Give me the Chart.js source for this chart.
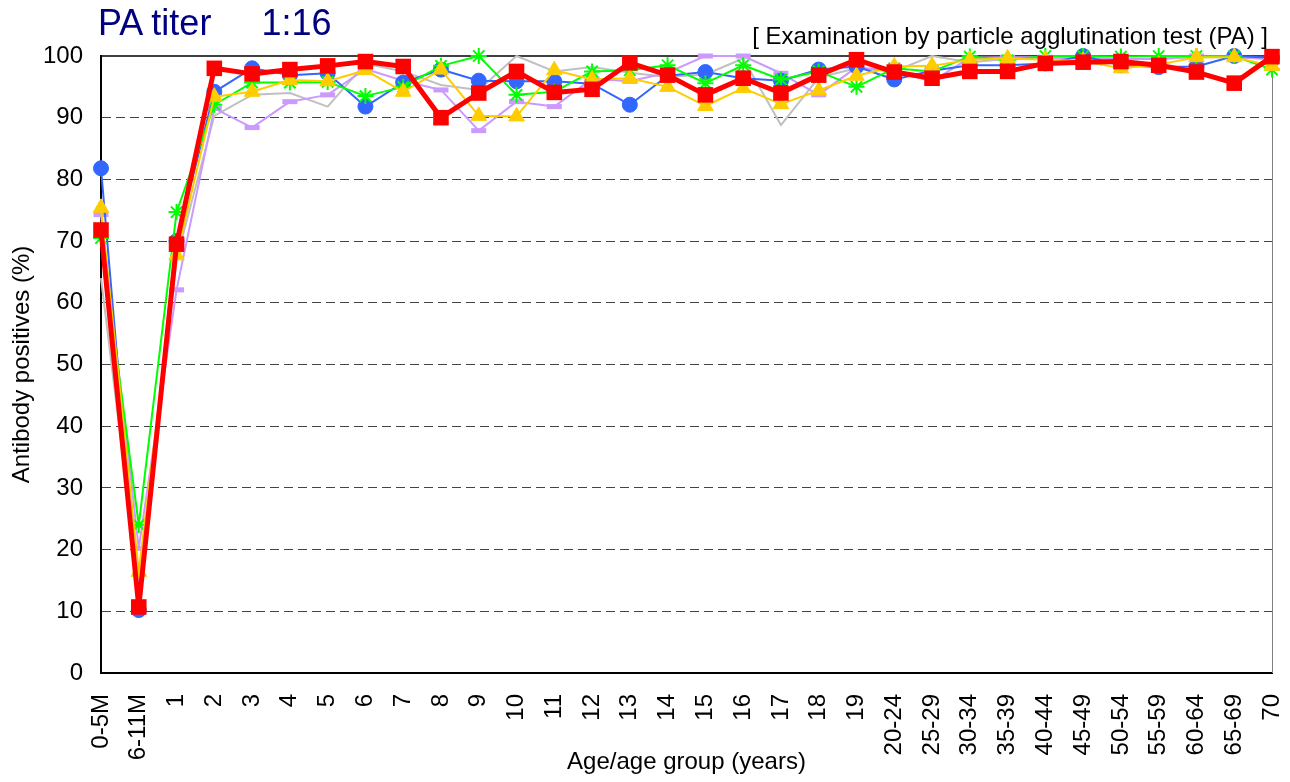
<!DOCTYPE html>
<html>
<head>
<meta charset="utf-8">
<title>PA titer 1:16</title>
<script src="https://cdn.jsdelivr.net/npm/chart.js@4.4.1/dist/chart.umd.min.js"></script>
<style>
    body { margin: 0; background: #fff; }
    #wrap { position: relative; width: 1290px; height: 782px; }
    #title {
        position: absolute; left: 98px; top: 5px;
        font: 36px/36px "Liberation Sans", Arial, sans-serif;
        color: #000080; white-space: pre;
    }
    #subtitle {
        position: absolute; right: 22px; top: 24px;
        font: 24px/24px "Liberation Sans", Arial, sans-serif;
        color: #000; white-space: pre;
    }
</style>
</head>
<body>
<div id="wrap">
    <canvas id="chart" width="1290" height="782"></canvas>
    <div id="title">PA titer<span style="margin-left:50px">1:16</span></div>
    <div id="subtitle">[ Examination by particle agglutination test (PA) ]</div>
</div>

<script>
// -----------------------------
// DATA
// -----------------------------
const ageGroups = [
    "0-5M", "6-11M", "1", "2", "3", "4", "5", "6", "7", "8", "9", "10",
    "11", "12", "13", "14", "15", "16", "17", "18", "19",
    "20-24", "25-29", "30-34", "35-39", "40-44", "45-49",
    "50-54", "55-59", "60-64", "65-69", "70"
];

const yTicks = [0, 10, 20, 30, 40, 50, 60, 70, 80, 90, 100];

// red squares (thick line)
const seriesRed = [
    71.8, 10.7, 69.5, 98.0, 97.1, 97.8, 98.4, 99.1, 98.3, 90.0, 94.0, 97.5,
    94.1, 94.6, 98.9, 96.9, 93.7, 96.4, 94.0, 96.9, 99.4,
    97.4, 96.4, 97.5, 97.5, 98.8, 99.0, 99.1, 98.5, 97.4, 95.6, 99.9
];

// yellow triangles
const seriesYellow = [
    75.4, 16.4, 67.7, 93.4, 94.2, 96.1, 95.9, 97.7, 94.2, 97.8, 90.3, 90.2,
    97.7, 96.2, 96.4, 95.0, 91.9, 94.8, 92.2, 94.4, 96.8,
    98.3, 98.4, 99.4, 99.6, 99.4, 99.2, 98.0, 98.6, 99.8, 99.8, 98.4
];

// green stars
const seriesGreen = [
    70.5, 24.0, 74.7, 92.1, 95.7, 95.7, 95.8, 93.5, 95.0, 98.4, 100, 93.7,
    94.2, 97.5, 97.7, 98.5, 95.6, 98.5, 96.2, 97.5, 95.0,
    98.0, 97.5, 99.9, 99.3, 100, 100, 99.9, 100, 100, 100, 97.8
];

// blue circles
const seriesBlue = [
    81.8, 10.2, 70.0, 94.2, 98.0, 96.9, 97.2, 91.8, 95.7, 97.8, 96.0, 95.9,
    95.9, 95.5, 92.1, 96.8, 97.4, 96.4, 96.0, 97.8, 98.3,
    96.2, 97.6, 98.5, 98.5, 98.8, 100, 98.5, 98.2, 98.3, 100, 99.7
];

// lavender dashes
const seriesLavender = [
    74.3, 20.2, 62.1, 91.5, 88.4, 92.6, 93.7, 97.9, 96.0, 94.5, 87.9, 92.6,
    91.8, 96.3, 95.9, 97.3, 100, 100, 97.2, 93.7, 98.2,
    97.5, 95.9, 99.7, 99.8, 99.8, 99.5, 99.5, 99.5, 100, 99.8, 99.5
];

// gray line, no markers
const seriesGray = [
    64.0, 14.0, 67.0, 90.3, 93.7, 94.0, 91.8, 98.8, 97.5, 95.3, 94.5, 100,
    97.5, 98.2, 97.3, 96.6, 97.0, 99.6, 88.8, 96.5, 98.0,
    97.5, 100, 99.0, 99.5, 99.5, 99.8, 99.5, 99.5, 99.8, 99.8, 99.5
];

const FONT = "'Liberation Sans', Arial, sans-serif";

// -----------------------------
// PLOT FRAME (top + right edge)
// -----------------------------
const framePlugin = {
    id: "frame",
    beforeDatasetsDraw(chart) {
        const { ctx, chartArea: a } = chart;
        ctx.save();
        ctx.strokeStyle = "#808080";
        ctx.lineWidth = 1;
        ctx.beginPath();
        ctx.moveTo(a.right + 0.5, a.top);
        ctx.lineTo(a.right + 0.5, a.bottom);
        ctx.stroke();
        ctx.strokeStyle = "#000";
        ctx.lineWidth = 1.5;
        ctx.beginPath();
        ctx.moveTo(a.left, a.top);
        ctx.lineTo(a.right, a.top);
        ctx.stroke();
        ctx.restore();
    }
};

// helper for one line series
function makeSeries(label, data, color, opts) {
    return Object.assign({
        label: label,
        data: data,
        borderColor: color,
        backgroundColor: color,
        pointBackgroundColor: color,
        pointBorderColor: color,
        borderWidth: 2,
        borderJoinStyle: "round",
        tension: 0,
        clip: false
    }, opts);
}

// -----------------------------
// CHART
// -----------------------------
new Chart(document.getElementById("chart"), {
    type: "line",
    data: {
        labels: ageGroups,
        datasets: [
            // first dataset is painted last (on top)
            makeSeries("red", seriesRed, "#FF0000", {
                borderWidth: 5, pointStyle: "rect", pointRadius: 11, pointBorderWidth: 0
            }),
            makeSeries("yellow", seriesYellow, "#FFCC00", {
                pointStyle: "triangle", pointRadius: 9, pointBorderWidth: 1
            }),
            makeSeries("green", seriesGreen, "#00FF00", {
                pointStyle: "star", pointRadius: 8, pointBorderWidth: 2
            }),
            makeSeries("blue", seriesBlue, "#3366FF", {
                pointStyle: "circle", pointRadius: 7.5, pointBorderWidth: 1
            }),
            makeSeries("lavender", seriesLavender, "#CC99FF", {
                pointStyle: "line", pointRadius: 7.5, pointBorderWidth: 5
            }),
            makeSeries("gray", seriesGray, "#C0C0C0", {
                pointRadius: 0
            })
        ]
    },
    options: {
        responsive: false,
        animation: false,
        events: [],
        layout: { padding: { top: 56, right: 18, left: 0, bottom: 0 } },
        plugins: {
            legend: { display: false },
            tooltip: { enabled: false }
        },
        scales: {
            x: {
                offset: false,
                grid: { display: false, drawTicks: false },
                border: { display: true, color: "#000", width: 2 },
                ticks: {
                    autoSkip: false,
                    minRotation: 90,
                    maxRotation: 90,
                    padding: 21,
                    color: "#000",
                    font: { family: FONT, size: 24 }
                },
                title: {
                    display: true,
                    text: "Age/age group (years)",
                    color: "#000",
                    font: { family: FONT, size: 24 },
                    padding: { top: 0, bottom: 5 }
                },
                afterFit(scale) {
                    scale.height = 109;
                    // labels are vertical, no side overflow to reserve
                    scale.paddingLeft = 0;
                    scale.paddingRight = 0;
                }
            },
            y: {
                min: 0,
                max: 100,
                afterBuildTicks(scale) {
                    scale.ticks = yTicks.map(v => ({ value: v }));
                },
                grid: {
                    drawTicks: false,
                    lineWidth: 1,
                    color: ctx => (ctx.tick && ctx.tick.value > 0 && ctx.tick.value < 100) ? "#444" : "rgba(0,0,0,0)"
                },
                border: { display: true, color: "#000", width: 2, dash: [9, 5] },
                ticks: {
                    padding: 18,
                    color: "#000",
                    font: { family: FONT, size: 24 }
                },
                title: {
                    display: true,
                    text: "Antibody positives (%)",
                    color: "#000",
                    font: { family: FONT, size: 24 },
                    padding: { top: 8, bottom: 0 }
                },
                afterFit(scale) { scale.width = 101; }
            }
        }
    },
    plugins: [framePlugin]
});
</script>
</body>
</html>
